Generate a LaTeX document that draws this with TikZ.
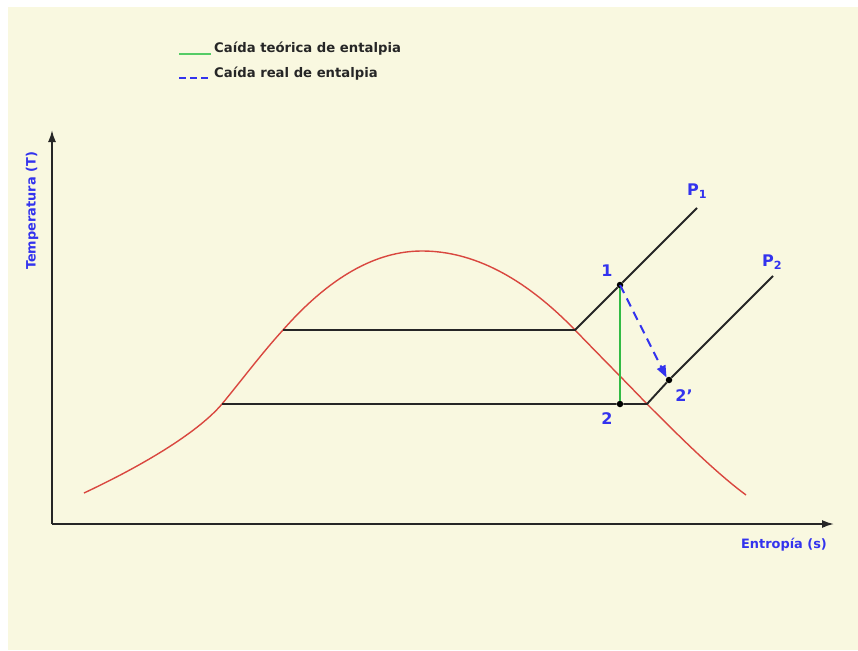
\documentclass[tikz,border=0pt]{standalone}
\usepackage{fontspec}
\setmainfont{DejaVu Sans}
\usetikzlibrary{arrows.meta}
\definecolor{bgbeige}{HTML}{F9F8E0}
\definecolor{curvered}{HTML}{D9473F}
\definecolor{lblblue}{HTML}{3333EE}
\definecolor{dropgreen}{HTML}{33BB44}
\definecolor{leggreen}{HTML}{55CC66}
\tikzset{
  axisline/.style={line width=1.8pt, black!85, -{Latex[length=12pt,width=8pt]}},
  isobar/.style={line width=1.9pt, black!85},
  satcurve/.style={line width=1.4pt, curvered},
  ptlabel/.style={font=\fontsize{16}{18}\selectfont\bfseries, text=lblblue, inner sep=0pt},
  axlabel/.style={font=\fontsize{12.9}{14}\selectfont\bfseries, text=lblblue, inner sep=0pt},
  legtext/.style={font=\fontsize{13.2}{14}\selectfont\bfseries, text=black!85, anchor=west, inner sep=0pt},
  statedot/.style={circle, fill=black, inner sep=0pt, minimum size=6.5pt},
}
\begin{document}
\begin{tikzpicture}[x=1pt,y=-1pt]
\useasboundingbox (0,0) rectangle (858,650);
\fill[white] (0,0) rectangle (858,650);
\fill[bgbeige] (8,7) rectangle (858,650);

% legend
\coordinate (lg1a) at (179,54);
\coordinate (lg1b) at (211,54);
\coordinate (lg2a) at (179,78);
\coordinate (lg2b) at (211,78);
\draw[leggreen, line width=2.8pt] (lg1a) -- (lg1b);
\draw[lblblue, line width=2.8pt, dash pattern=on 7pt off 4pt] (lg2a) -- (lg2b);
\node[legtext] (leg1) at (214,49) {Caída teórica de entalpia};
\node[legtext] (leg2) at (214,74) {Caída real de entalpia};

% axes
\coordinate (origin) at (52,524);
\coordinate (ytip) at (52,130);
\coordinate (xtip) at (834,524);
\draw[axisline] (origin) -- (ytip);
\draw[axisline] (origin) -- (xtip);
\node[axlabel, rotate=90] (ylab) at (32,211) {Temperatura (T)};
\node[axlabel] (xlab) at (784,545) {Entropía (s)};

% saturation curve
\draw[satcurve] (84,493)
  .. controls (150,462) and (200,430) .. (222,404)
  .. controls (241,381) and (262,353) .. (283,330)
  .. controls (329.3,277.3) and (375.7,251) .. (422,251)
  .. controls (473,251) and (524,277.3) .. (575,330)
  .. controls (600,356) and (625,381) .. (647,404)
  .. controls (680,437) and (715,472) .. (746,495);

% key points
\coordinate (a1) at (283,330);
\coordinate (b1) at (575,330);
\coordinate (a2) at (222,404);
\coordinate (b2) at (647,404);
\coordinate (p1end) at (697,208);
\coordinate (p2end) at (773,276);
\node[statedot] (s1) at (620,285) {};
\node[statedot] (s2) at (620,404) {};
\node[statedot] (s2r) at (669,380) {};

% isobars
\draw[isobar] (a1) -- (b1) -- (s1) -- (p1end);
\draw[isobar] (a2) -- (s2) -- (b2) -- (s2r) -- (p2end);

% expansions
\draw[dropgreen, line width=1.8pt] (s1) -- (s2);
\draw[lblblue, line width=2pt, dash pattern=on 9pt off 6pt,
  -{Triangle[length=12pt,width=9pt]}] (s1.center) -- (s2r.north west);

% labels
\node[ptlabel] (l1) at (607,271) {1};
\node[ptlabel] (l2) at (607,419) {2};
\node[ptlabel] (l2r) at (684,396) {2{\char"0027}};
\node[ptlabel, anchor=west] (lp1) at (687,191) {P\textsubscript{1}};
\node[ptlabel, anchor=west] (lp2) at (762,262) {P\textsubscript{2}};
\end{tikzpicture}
\end{document}
